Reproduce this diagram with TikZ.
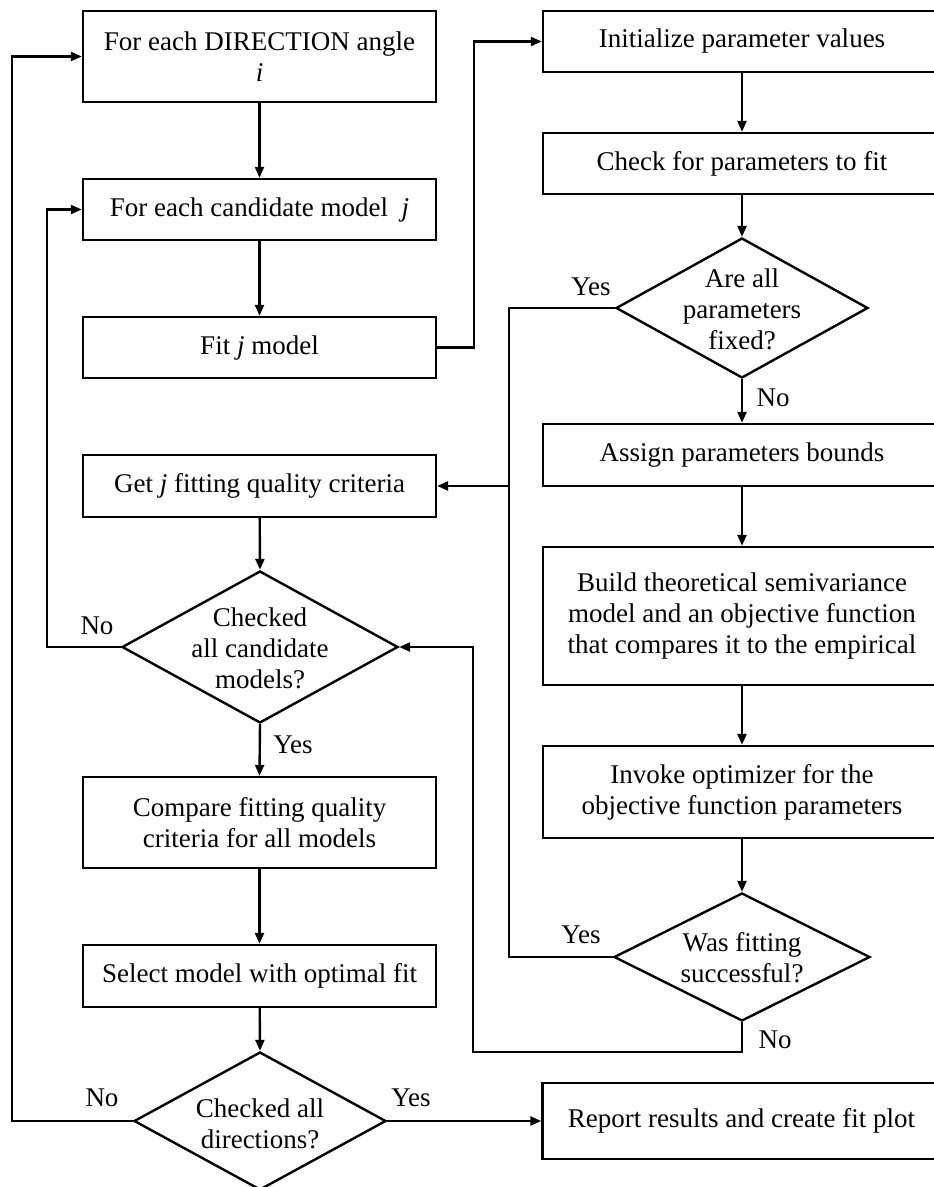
\documentclass[tikz,border=0pt]{standalone}
\usepackage{fontspec}
\setmainfont{Liberation Serif}
\usetikzlibrary{shapes.geometric,arrows.meta}
\tikzset{
  base/.style={font=\fontsize{27}{31}\selectfont, line width=2.4pt},
  boxl/.style={draw, rectangle, minimum width=353pt, inner sep=0pt, align=center},
  boxr/.style={draw, rectangle, minimum width=398pt, inner sep=0pt, align=center},
  dia/.style={draw, diamond, inner sep=0pt},
  arr/.style={-{Triangle[length=11pt,width=9pt]}, line width=2.4pt},
  ln/.style={line width=2.4pt},
  lab/.style={inner sep=0pt}
}
\begin{document}
\begin{tikzpicture}[x=1pt,y=-1pt,base]
\useasboundingbox (0,0) rectangle (934,1187);
\clip (0,0) rectangle (934,1187);
% left column
\node[boxl, minimum height=91pt] (b1) at (259.5,56.5) {For each DIRECTION angle\\\textit{i}};
\node[boxl, minimum height=61pt] (b2) at (259.5,209.5) {For each candidate model\ \ \textit{j}};
\node[boxl, minimum height=61pt] (b3) at (259.5,347.5) {Fit \textit{j} model};
\node[boxl, minimum height=62pt] (getj) at (259.5,486) {Get \textit{j} fitting quality criteria};
\node[dia, minimum width=276pt, minimum height=152pt] (c1) at (260,647) {};
\node[align=center] (c1t) at (260,648) {Checked\\all candidate\\models?};
\node[boxl, minimum height=91pt] (cmp) at (259.5,822.5) {Compare fitting quality\\criteria for all models};
\node[boxl, minimum height=62pt] (sel) at (259.5,976) {Select model with optimal fit};
\node[dia, minimum width=252pt, minimum height=138pt] (c2) at (260,1121) {};
\node[align=center] (c2t) at (260,1124) {Checked all\\directions?};
% right column
\node[boxr, minimum height=61pt] (init) at (742,41.5) {Initialize parameter values};
\node[boxr, minimum height=61pt] (chk) at (742,163.5) {Check for parameters to fit};
\node[dia, minimum width=252pt, minimum height=140pt] (d1) at (742,308) {};
\node[align=center] (d1t) at (742,309) {Are all\\parameters\\fixed?};
\node[boxr, minimum height=62pt] (asg) at (742,455) {Assign parameters bounds};
\node[boxr, minimum height=138pt] (bld) at (742,616) {Build theoretical semivariance\\model and an objective function\\that compares it to the empirical};
\node[boxr, minimum height=92pt] (inv) at (742,792) {Invoke optimizer for the\\objective function parameters};
\node[dia, minimum width=256pt, minimum height=128pt] (d2) at (742,957) {};
\node[align=center] (d2t) at (742,958) {Was fitting\\successful?};
\node[boxr, minimum height=76pt] (rep) at (741.5,1121) {Report results and create fit plot};
% labels
\node[lab] (l1) at (591,287) {Yes};
\node[lab] (l2) at (773,398) {No};
\node[lab] (l3) at (97,626) {No};
\node[lab] (l4) at (293,745) {Yes};
\node[lab] (l5) at (581,935) {Yes};
\node[lab] (l6) at (775,1040) {No};
\node[lab] (l7) at (102,1098) {No};
\node[lab] (l8) at (411,1098) {Yes};
% junction coordinates
\coordinate (m) at (509,486);
\coordinate (n) at (473,1052);
% connectors left
\draw[arr] (b1) -- (b2);
\draw[arr] (b2) -- (b3);
\draw[arr] (b3.east) -- ++(37,0) |- (init.west);
\draw[arr] (getj) -- (c1.north);
\draw[arr] (c1.south) -- (cmp.north);
\draw[arr] (c1.west) -- ++(-74,0) |- (b2.west);
\draw[arr] (cmp) -- (sel);
\draw[arr] (sel) -- (c2.north);
\draw[arr] (c2.west) -- ++(-121,0) |- (b1.west);
\draw[arr] (c2.east) -- (rep.west);
% connectors right
\draw[arr] (init) -- (chk);
\draw[arr] (chk) -- (d1.north);
\draw[arr] (d1.south) -- (asg.north);
\draw[arr] (asg) -- (bld);
\draw[arr] (bld) -- (inv);
\draw[arr] (inv) -- (d2.north);
\draw[arr] (d1.west) -| (m) -- (getj.east);
\draw[ln] (d2.west) -| (m);
\draw[arr] (d2.south) |- (n) |- (c1.east);
\end{tikzpicture}
\end{document}
